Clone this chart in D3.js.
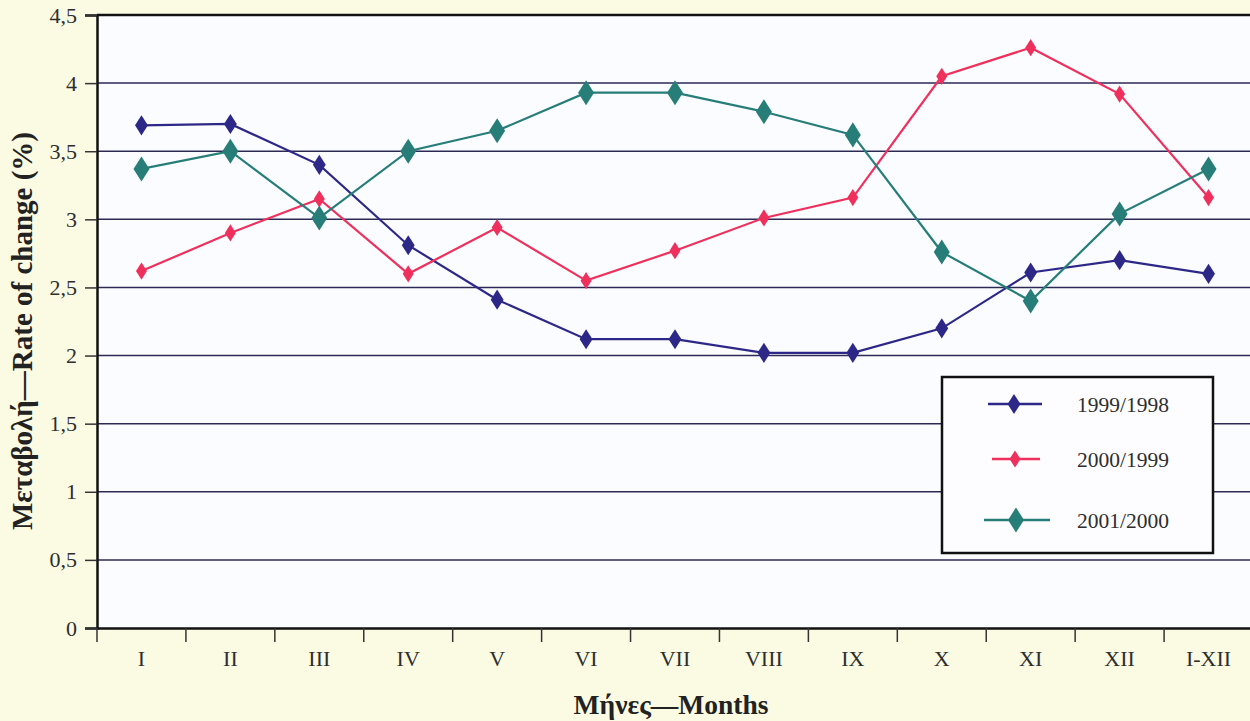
<!DOCTYPE html>
<html>
<head>
<meta charset="utf-8">
<script src="https://cdn.jsdelivr.net/npm/d3@7"></script>
<style>
  html, body { margin: 0; padding: 0; background: #fbfbe4; }
  svg { display: block; }
  text { font-family: "Liberation Serif", "Times New Roman", "DejaVu Serif", serif; }
</style>
</head>
<body>
<script>
const categories = ["I","II","III","IV","V","VI","VII","VIII","IX","X","XI","XII","I-XII"];
const seriesNames = ["1999/1998","2000/1999","2001/2000"];
const s1999 = [3.69, 3.70, 3.40, 2.81, 2.41, 2.12, 2.12, 2.02, 2.02, 2.20, 2.61, 2.70, 2.60];
const s2000 = [2.62, 2.90, 3.15, 2.60, 2.94, 2.55, 2.77, 3.01, 3.16, 4.05, 4.26, 3.92, 3.16];
const s2001 = [3.37, 3.50, 3.01, 3.50, 3.65, 3.93, 3.93, 3.79, 3.62, 2.76, 2.40, 3.04, 3.37];
const yTicks = [0, 0.5, 1, 1.5, 2, 2.5, 3, 3.5, 4, 4.5];
const yTickLabels = ["0","0,5","1","1,5","2","2,5","3","3,5","4","4,5"];

const W = 1250, H = 721;
const mLeft = 97, mTop = 15, mBottom = 628, mRight = 1253;
const FONT = "'Liberation Serif', 'Times New Roman', 'DejaVu Serif', serif";

const svg = d3.select("body").append("svg").attr("width", W).attr("height", H);

// plot background
svg.append("rect").attr("x", mLeft).attr("y", mTop).attr("width", W - mLeft).attr("height", mBottom - mTop)
  .attr("fill", "#fbfcff");

const x = d3.scaleBand().domain(categories).range([mLeft, mRight]).padding(0);
const y = d3.scaleLinear().domain([0, 4.5]).range([mBottom, mTop]);

// gridlines
svg.append("g").selectAll("line").data(yTicks.filter(d => d > 0 && d < 4.5)).join("line")
  .attr("x1", mLeft).attr("x2", W).attr("y1", d => y(d)).attr("y2", d => y(d))
  .attr("stroke", "#2c2a55").attr("stroke-width", 1.5);

// top border
svg.append("line").attr("x1", mLeft).attr("x2", W).attr("y1", y(4.5)).attr("y2", y(4.5))
  .attr("stroke", "#111").attr("stroke-width", 2.5);

// y axis
const yAxis = d3.axisLeft(y).tickValues(yTicks).tickFormat((d, i) => yTickLabels[i]).tickSize(12).tickPadding(8);
const gy = svg.append("g").attr("transform", `translate(${mLeft},0)`).call(yAxis);
gy.select(".domain").attr("stroke", "#111").attr("stroke-width", 2.5);
gy.selectAll(".tick line").attr("stroke", "#333").attr("stroke-width", 1.5);
gy.selectAll(".tick text").attr("font-family", FONT).attr("font-size", 22).attr("fill", "#2e2e2e");

// x axis
const xAxis = d3.axisBottom(x).tickSize(0).tickPadding(22);
const gx = svg.append("g").attr("transform", `translate(0,${mBottom})`).call(xAxis);
gx.select(".domain").attr("stroke", "#111").attr("stroke-width", 2.5);
gx.selectAll(".tick text").attr("font-family", FONT).attr("font-size", 22).attr("fill", "#2e2e2e");
// boundary tick marks
const bounds = categories.map(c => x(c)).concat([mRight]);
svg.append("g").selectAll("line").data(bounds).join("line")
  .attr("x1", d => d).attr("x2", d => d).attr("y1", mBottom).attr("y2", mBottom + 14)
  .attr("stroke", "#333").attr("stroke-width", 1.5);

// series
const series = [
  { name: seriesNames[0], values: s1999, color: "#2d2888", size: 130, width: 2.2 },
  { name: seriesNames[1], values: s2000, color: "#f0305c", size: 95, width: 2.2 },
  { name: seriesNames[2], values: s2001, color: "#277d78", size: 200, width: 2.2 }
];
const cx = c => x(c) + x.bandwidth() / 2;
const line = d3.line().x((d, i) => cx(categories[i])).y(d => y(d));

series.forEach(s => {
  svg.append("path").datum(s.values).attr("d", line)
    .attr("fill", "none").attr("stroke", s.color).attr("stroke-width", s.width);
  svg.append("g").selectAll("path").data(s.values).join("path")
    .attr("d", d3.symbol().type(d3.symbolDiamond).size(s.size))
    .attr("transform", (d, i) => `translate(${cx(categories[i])},${y(d)}) scale(1.05,0.95)`)
    .attr("fill", s.color);
});

// legend
const lg = svg.append("g");
lg.append("rect").attr("x", 942).attr("y", 377).attr("width", 271).attr("height", 176)
  .attr("fill", "#fdfdff").attr("stroke", "#111").attr("stroke-width", 2.5);
const legRows = [
  { y: 404, x1: 988, x2: 1042 },
  { y: 459, x1: 992, x2: 1040 },
  { y: 520, x1: 984, x2: 1050 }
];
series.forEach((s, i) => {
  const r = legRows[i];
  lg.append("line").attr("x1", r.x1).attr("x2", r.x2).attr("y1", r.y).attr("y2", r.y)
    .attr("stroke", s.color).attr("stroke-width", 2.5);
  lg.append("path").attr("d", d3.symbol().type(d3.symbolDiamond).size(s.size))
    .attr("transform", `translate(${(r.x1 + r.x2) / 2 - 1},${r.y}) scale(1.05,0.95)`).attr("fill", s.color);
  lg.append("text").attr("x", 1077).attr("y", r.y + 8).text(s.name)
    .attr("font-family", FONT).attr("font-size", 21.5).attr("fill", "#2e2e2e");
});

// axis titles
svg.append("text").attr("transform", "translate(32,331) rotate(-90)").attr("text-anchor", "middle")
  .attr("font-family", FONT).attr("font-weight", "bold").attr("font-size", 29).attr("fill", "#222")
  .text("Μεταβολή—Rate of change (%)");
svg.append("text").attr("x", 671).attr("y", 714).attr("text-anchor", "middle")
  .attr("font-family", FONT).attr("font-weight", "bold").attr("font-size", 27.5).attr("fill", "#222")
  .text("Μήνες—Months");
</script>
</body>
</html>
